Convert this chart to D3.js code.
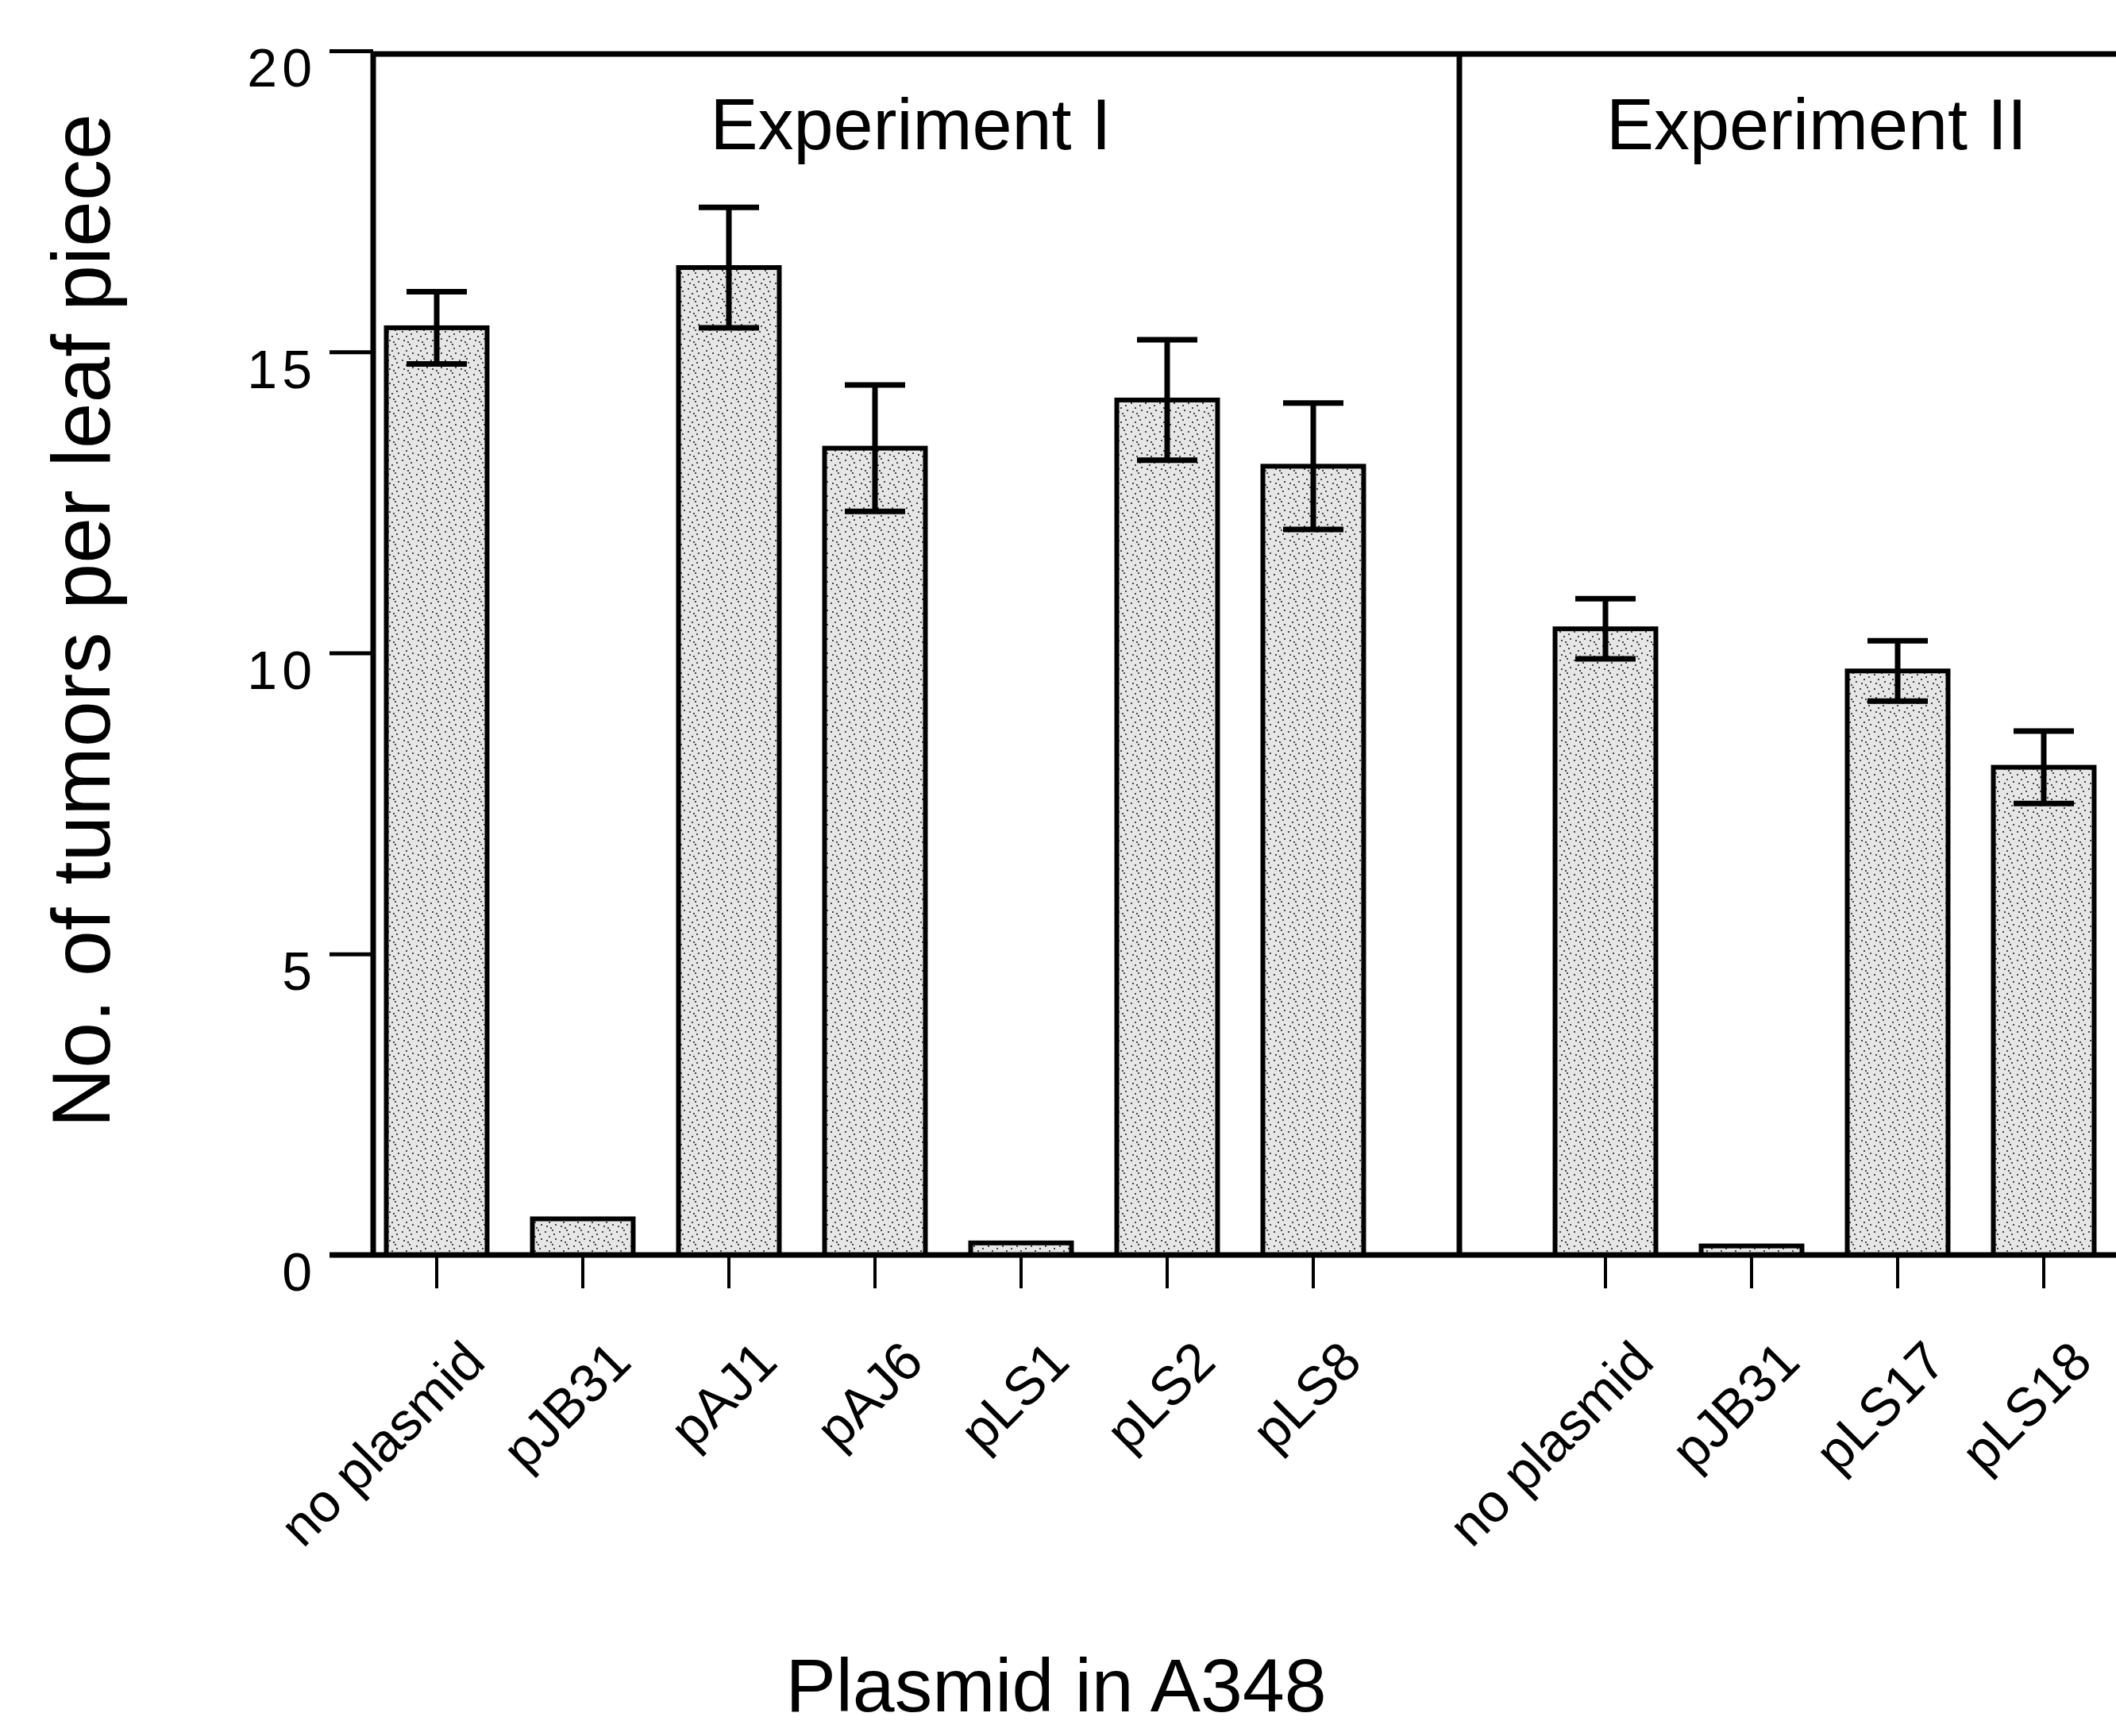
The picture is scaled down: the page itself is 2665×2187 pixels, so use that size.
<!DOCTYPE html>
<html>
<head>
<meta charset="utf-8">
<script src="https://cdn.jsdelivr.net/npm/d3@7"></script>
<style>
  body { margin: 0; background: #fff; }
  text { font-family: "Liberation Sans", Arial, sans-serif; fill: #000; }
</style>
</head>
<body>
<svg id="canvas"></svg>
<script>
// ########## Data ##########

expILabels = ["no plasmid", "pJB31", "pAJ1", "pAJ6", "pLS1", "pLS2", "pLS8"];
expIValues = [15.4, 0.6, 16.4, 13.4, 0.2, 14.2, 13.1];
expIErrors = [0.6, 0, 1.0, 1.05, 0, 1.0, 1.05];

expIILabels = ["no plasmid", "pJB31", "pLS17", "pLS18"];
expIIValues = [10.4, 0.15, 9.7, 8.1];
expIIErrors = [0.5, 0, 0.5, 0.6];

yTicks = [0, 5, 10, 15, 20];

panelTitles = ["Experiment I", "Experiment II"];

w = 2665;
h = 2187;

// one slot per bar, with an empty slot between the two experiments
bars = [];
expILabels.forEach(function (l, i) {
    bars.push({ key: "I-" + i, label: l, value: expIValues[i], err: expIErrors[i] });
});
expIILabels.forEach(function (l, i) {
    bars.push({ key: "II-" + i, label: l, value: expIIValues[i], err: expIIErrors[i] });
});
slots = bars.slice(0, 7).map(function (d) { return d.key; })
    .concat(["gap"])
    .concat(bars.slice(7).map(function (d) { return d.key; }));

// ########## SVG ##########
svg = d3.select("#canvas")
    .attr("width", w)
    .attr("height", h);

svg.append("rect")
    .attr("width", w)
    .attr("height", h)
    .attr("fill", "#fff");

// stipple for the bars
defs = svg.append("defs");
pat = defs.append("pattern")
    .attr("id", "stipple")
    .attr("patternUnits", "userSpaceOnUse")
    .attr("width", 18)
    .attr("height", 18);
pat.append("rect").attr("width", 18).attr("height", 18).attr("fill", "#e6e6e6");
[[2, 3], [11, 1], [7, 9], [15, 12], [4, 14], [13, 6], [9, 16]].forEach(function (p) {
    pat.append("rect")
        .attr("x", p[0]).attr("y", p[1])
        .attr("width", 2).attr("height", 2)
        .attr("fill", "#444");
});

// ########## Scales ##########
x = d3.scaleBand()
    .domain(slots)
    .range([458, 458 + 184 * slots.length])
    .paddingInner(0.31)
    .paddingOuter(0.155);

y = d3.scaleLinear()
    .domain([0, 20])
    .range([1581, 64]);

xLeft = 470;

// ########## Y axis ##########
yAxis = svg.append("g")
    .attr("transform", "translate(" + xLeft + ",0)")
    .call(d3.axisLeft(y).tickValues(yTicks).tickSize(55).tickPadding(16));

yAxis.select(".domain").remove();
yAxis.selectAll(".tick line")
    .attr("stroke", "#000")
    .attr("stroke-width", 5);
yAxis.selectAll(".tick text")
    .attr("font-size", 68)
    .attr("letter-spacing", 6)
    .attr("dy", "0.66em");

// ########## Frame ##########
frame = svg.append("g")
    .attr("stroke", "#000")
    .attr("stroke-width", 7)
    .attr("fill", "none");

frame.append("line")
    .attr("x1", xLeft).attr("x2", xLeft)
    .attr("y1", y(20) + 2).attr("y2", y(0));

frame.append("line")
    .attr("x1", xLeft - 3).attr("x2", w)
    .attr("y1", y(20) + 4).attr("y2", y(20) + 4);

dividerX = x("gap") + x.bandwidth() / 2;
frame.append("line")
    .attr("x1", dividerX).attr("x2", dividerX)
    .attr("y1", y(20) + 4).attr("y2", y(0));

// ########## Bars ##########
barGroup = svg.append("g");

barGroup.selectAll("rect")
    .data(bars)
    .enter()
    .append("rect")
    .attr("x", function (d) { return x(d.key); })
    .attr("y", function (d) { return y(d.value); })
    .attr("width", x.bandwidth())
    .attr("height", function (d) { return y(0) - y(d.value); })
    .attr("fill", "url(#stipple)")
    .attr("stroke", "#000")
    .attr("stroke-width", 6);

// ########## Error bars ##########
errGroup = svg.append("g")
    .attr("stroke", "#000")
    .attr("stroke-width", 7);

errBars = bars.filter(function (d) { return d.err > 0; });
capHalf = 38;

errGroup.selectAll("line.stem")
    .data(errBars)
    .enter()
    .append("line")
    .attr("class", "stem")
    .attr("x1", function (d) { return x(d.key) + x.bandwidth() / 2; })
    .attr("x2", function (d) { return x(d.key) + x.bandwidth() / 2; })
    .attr("y1", function (d) { return y(d.value + d.err); })
    .attr("y2", function (d) { return y(d.value - d.err); });

errGroup.selectAll("line.capTop")
    .data(errBars)
    .enter()
    .append("line")
    .attr("class", "capTop")
    .attr("x1", function (d) { return x(d.key) + x.bandwidth() / 2 - capHalf; })
    .attr("x2", function (d) { return x(d.key) + x.bandwidth() / 2 + capHalf; })
    .attr("y1", function (d) { return y(d.value + d.err); })
    .attr("y2", function (d) { return y(d.value + d.err); });

errGroup.selectAll("line.capBottom")
    .data(errBars)
    .enter()
    .append("line")
    .attr("class", "capBottom")
    .attr("x1", function (d) { return x(d.key) + x.bandwidth() / 2 - capHalf; })
    .attr("x2", function (d) { return x(d.key) + x.bandwidth() / 2 + capHalf; })
    .attr("y1", function (d) { return y(d.value - d.err); })
    .attr("y2", function (d) { return y(d.value - d.err); });

// ########## X axis ##########
svg.append("line")
    .attr("x1", xLeft - 55).attr("x2", w)
    .attr("y1", y(0)).attr("y2", y(0))
    .attr("stroke", "#000")
    .attr("stroke-width", 7);

labelOf = {};
bars.forEach(function (d) { labelOf[d.key] = d.label; });

xAxis = svg.append("g")
    .attr("transform", "translate(0," + y(0) + ")")
    .call(d3.axisBottom(x)
        .tickValues(bars.map(function (d) { return d.key; }))
        .tickSize(42)
        .tickFormat(function (k) { return labelOf[k]; }));

xAxis.select(".domain").remove();
xAxis.selectAll(".tick line")
    .attr("stroke", "#000")
    .attr("stroke-width", 4);
xAxis.selectAll(".tick text")
    .attr("font-size", 68)
    .attr("text-anchor", "end")
    .attr("x", 0)
    .attr("y", 0)
    .attr("dy", 0)
    .attr("transform", "translate(64,138) rotate(-45)");

// ########## Titles ##########
svg.selectAll("text.panel")
    .data(panelTitles)
    .enter()
    .append("text")
    .attr("class", "panel")
    .attr("x", function (d, i) { return i == 0 ? 1147 : 2288; })
    .attr("y", 188)
    .attr("text-anchor", "middle")
    .attr("font-size", 90)
    .text(function (d) { return d; });

svg.append("text")
    .attr("transform", "translate(138,782) rotate(-90)")
    .attr("text-anchor", "middle")
    .attr("font-size", 104)
    .text("No. of tumors per leaf piece");

svg.append("text")
    .attr("x", 1330)
    .attr("y", 2156)
    .attr("text-anchor", "middle")
    .attr("font-size", 95)
    .text("Plasmid in A348");
</script>
</body>
</html>
